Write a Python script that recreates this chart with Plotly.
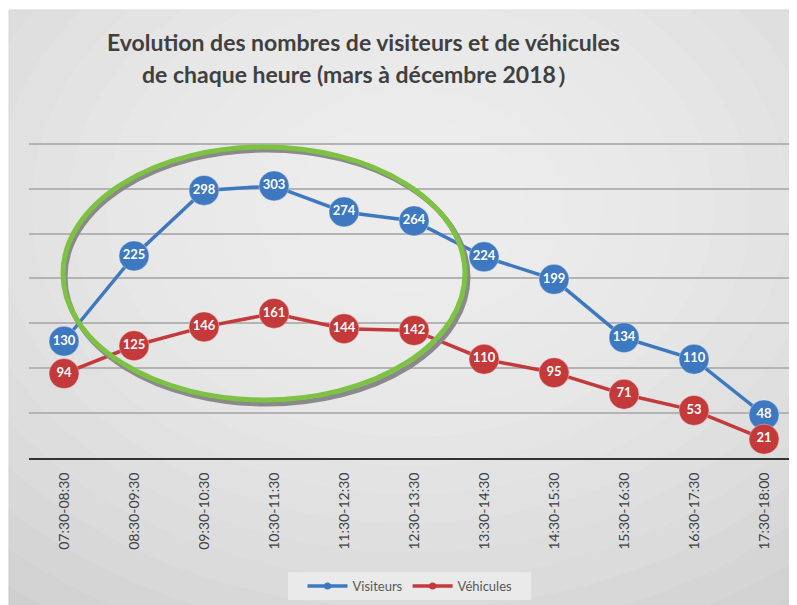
import plotly.graph_objects as go

categories = ["07:30-08:30", "08:30-09:30", "09:30-10:30", "10:30-11:30", "11:30-12:30",
              "12:30-13:30", "13:30-14:30", "14:30-15:30", "15:30-16:30", "16:30-17:30", "17:30-18:00"]
visiteurs = [130, 225, 298, 303, 274, 264, 224, 199, 134, 110, 48]
vehicules = [94, 125, 146, 161, 144, 142, 110, 95, 71, 53, 21]
series_names = ["Visiteurs", "Véhicules"]
series_colors = ["#3D78C0", "#C4393A"]

OFF = 8  # page body margin
W, H = 797, 605
PX0, PX1, PY0, PY1 = 29, 799, 141, 458
L = PX0 - OFF
T = PY0 - OFF
R = W - (PX1 - OFF)
B = H - (PY1 - OFF)
PW, PH = W - L - R, H - T - B


def px(x):
    return (x - OFF - L) / PW


def py(y):
    return (H - B - (y - OFF)) / PH


fig = go.Figure()
for name, vals, col in zip(series_names, [visiteurs, vehicules], series_colors):
    fig.add_trace(go.Scatter(
        x=categories, y=vals, name=name, mode="lines+markers+text", showlegend=False,
        line=dict(color=col, width=3.5),
        marker=dict(size=30, color=col, line=dict(color="rgba(255,255,255,0.35)", width=1)),
        text=[str(v) for v in vals], textposition="middle center",
        textfont=dict(family="Lato", size=13, color="white", weight="bold"),
        cliponaxis=False,
    ))
# legend entries with small markers (as in the original legend)
for name, col in zip(series_names, series_colors):
    fig.add_trace(go.Scatter(
        x=[None], y=[None], name=name, mode="lines+markers",
        line=dict(color=col, width=3.5), marker=dict(size=7, color=col),
    ))

shapes = []
shapes.append(dict(type="rect", xref="paper", yref="paper", layer="below",
                   x0=px(9), x1=px(810), y0=py(10), y1=py(620),
                   fillcolor="#cfcfcf", line=dict(color="#c4c4c4", width=1)))
cx, cy = 410, 205
n = 15
for i in range(n):
    f = 1 - i / n
    rx, ry = 80 + 560 * f, 60 + 430 * f
    shapes.append(dict(type="circle", xref="paper", yref="paper", layer="below",
                       x0=px(cx - rx), x1=px(cx + rx), y0=py(cy - ry), y1=py(cy + ry),
                       fillcolor="rgba(255,255,255,0.08)", line=dict(width=0)))
shapes.append(dict(type="circle", xref="paper", yref="paper", layer="above",
                   x0=px(65), x1=px(468), y0=py(150), y1=py(404),
                   line=dict(color="#8a8a8a", width=5)))
shapes.append(dict(type="circle", xref="paper", yref="paper", layer="above",
                   x0=px(63), x1=px(465), y0=py(147), y1=py(400),
                   line=dict(color="#7DC242", width=5)))
shapes.append(dict(type="rect", xref="paper", yref="paper", layer="below",
                   x0=px(288), x1=px(531), y0=py(572), y1=py(600),
                   fillcolor="rgba(235,235,235,0.9)", line=dict(width=0)))

annotations = [
    dict(text="Evolution des nombres de visiteurs et de véhicules", xref="paper", yref="paper",
         x=px(363), y=py(42), xanchor="center", yanchor="middle", showarrow=False,
         font=dict(family="Lato", size=23, color="#404040", weight="bold")),
    dict(text="de chaque heure (mars à décembre 2018）", xref="paper", yref="paper",
         x=px(360), y=py(74), xanchor="center", yanchor="middle", showarrow=False,
         font=dict(family="Lato", size=23, color="#404040", weight="bold")),
]

fig.update_layout(
    width=W, height=H,
    margin=dict(l=L, r=R, t=T, b=B),
    paper_bgcolor="white", plot_bgcolor="rgba(0,0,0,0)",
    shapes=shapes, annotations=annotations,
    showlegend=True,
    legend=dict(orientation="h", x=px(410), xanchor="center", y=py(586), yanchor="middle",
                bgcolor="rgba(0,0,0,0)", font=dict(family="Lato", size=13, color="#595959"),
                itemwidth=40, entrywidth=0, itemsizing="trace"),
    xaxis=dict(type="category", range=[-0.5, 10.5], showgrid=False,
               showline=True, linecolor="#333333", linewidth=2,
               tickangle=-90, ticks="", ticklabelstandoff=7,
               tickfont=dict(family="Lato", size=14, color="#404040")),
    yaxis=dict(range=[0, 353], tickvals=[50, 100, 150, 200, 250, 300, 350],
               showticklabels=False, showgrid=True,
               gridcolor="#b3b3b3", gridwidth=1.5, zeroline=False, fixedrange=True),
)

fig.write_html("out.html")
